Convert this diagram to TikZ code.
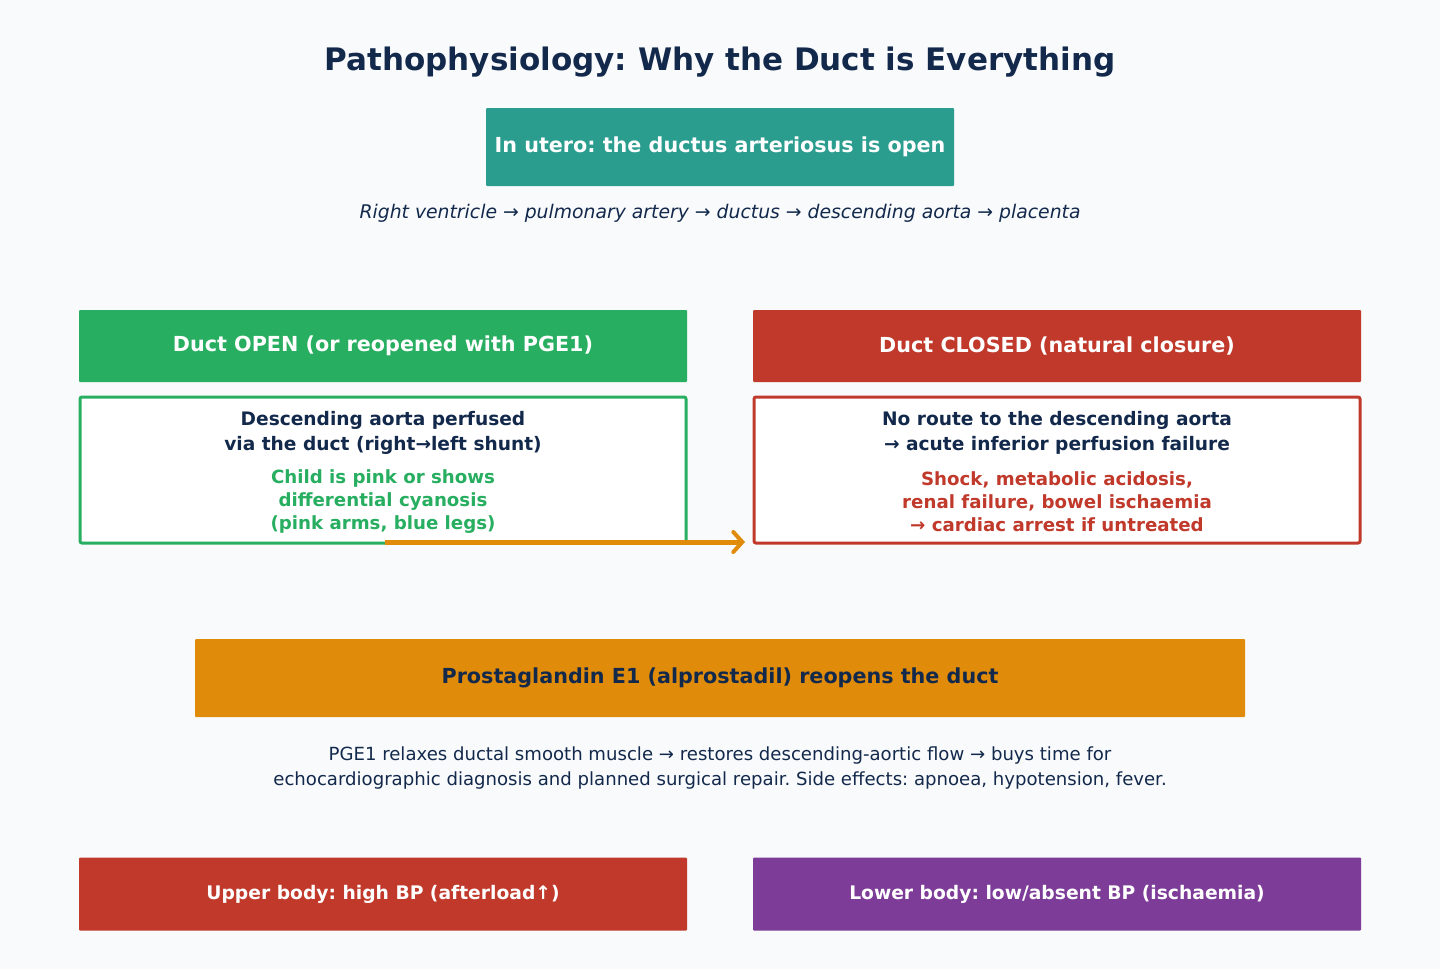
\documentclass[tikz,border=0pt]{standalone}
\usepackage{fontspec}
\setmainfont{DejaVu Sans}
\frenchspacing
\usetikzlibrary{arrows.meta}
\definecolor{pagebg}{HTML}{F8FAFC}
\definecolor{navy}{HTML}{13294B}
\definecolor{uterocol}{HTML}{2A9D8F}
\definecolor{opencol}{HTML}{27AE60}
\definecolor{closedcol}{HTML}{C0392B}
\definecolor{pgecol}{HTML}{E08C0A}
\definecolor{lowcol}{HTML}{7D3C98}
\begin{document}
\begin{tikzpicture}[x=1pt,y=-1pt]
		\tikzset{
			banner/.style = {rounded corners=1pt, inner sep=0pt, text=white,
					font=\bfseries\fontsize{20.7}{24}\selectfont},
			panel/.style = {draw, fill=white, line width=3pt, rounded corners=2pt,
					minimum width=606pt, minimum height=146pt, inner sep=0pt},
			lead/.style = {align=center, text=navy, font=\bfseries\fontsize{18.6}{25}\selectfont},
			note/.style = {align=center, font=\bfseries\fontsize{18.2}{23}\selectfont},
		}

		\fill[pagebg] (0,0) rectangle (1440,969);
		\useasboundingbox (0,0) rectangle (1440,969);

		\node[text=navy, font=\bfseries\fontsize{31}{36}\selectfont] (title) at (720,62)
		{Pathophysiology: Why the Duct is Everything};

		% fetal circulation
		\node[banner, fill=uterocol, minimum width=468pt, minimum height=78pt] (utero) at (720,147)
		{In utero: the ductus arteriosus is open};
		\node[text=navy, font=\itshape\fontsize{18.8}{22}\selectfont] (route) at (720,213)
		{Right ventricle → pulmonary artery → ductus → descending aorta → placenta};

		% two outcomes
		\node[banner, fill=opencol, minimum width=608pt, minimum height=72pt] (openhead) at (383,346)
		{Duct OPEN (or reopened with PGE1)};
		\node[banner, fill=closedcol, minimum width=608pt, minimum height=72pt] (closedhead) at (1057,346)
		{Duct CLOSED (natural closure)};

		\node[panel, draw=opencol] (openbox) at (383,470) {};
		\node[panel, draw=closedcol] (closedbox) at (1057,470) {};

		\node[lead] (openlead) at (383,433)
		{Descending aorta perfused\\via the duct (right→left shunt)};
		\node[note, text=opencol] (opennote) at (383,502)
		{Child is pink or shows\\differential cyanosis\\(pink arms, blue legs)};
		\node[lead] (closedlead) at (1057,433)
		{No route to the descending aorta\\→ acute inferior perfusion failure};
		\node[note, text=closedcol] (closednote) at (1057,502)
		{Shock, metabolic acidosis,\\renal failure, bowel ischaemia\\→ cardiac arrest if untreated};

		\coordinate (shuntstart) at (385,542);
		\coordinate (shuntend) at (745,542);
		\draw[pgecol, line width=5pt, -{Straight Barb[length=9pt,width=20pt,line width=4pt,line cap=round]}]
		(shuntstart) -- (shuntend);

		% treatment
		\node[banner, fill=pgecol, text=navy, minimum width=1050pt, minimum height=78pt] (pge) at (720,678)
		{Prostaglandin E1 (alprostadil) reopens the duct};
		\node[align=center, text=navy, font=\fontsize{18.1}{25}\selectfont] (pgenote) at (720,768)
		{PGE1 relaxes ductal smooth muscle → restores descending-aortic flow → buys time for\\
			echocardiographic diagnosis and planned surgical repair. Side effects: apnoea, hypotension, fever.};

		% blood pressure
		\node[banner, fill=closedcol, minimum width=608pt, minimum height=73pt,
			font=\bfseries\fontsize{18.7}{22}\selectfont] (upper) at (383,894)
		{Upper body: high BP (afterload↑)};
		\node[banner, fill=lowcol, minimum width=608pt, minimum height=73pt,
			font=\bfseries\fontsize{18.7}{22}\selectfont] (lower) at (1057,894)
		{Lower body: low/absent BP (ischaemia)};
	\end{tikzpicture}
\end{document}
